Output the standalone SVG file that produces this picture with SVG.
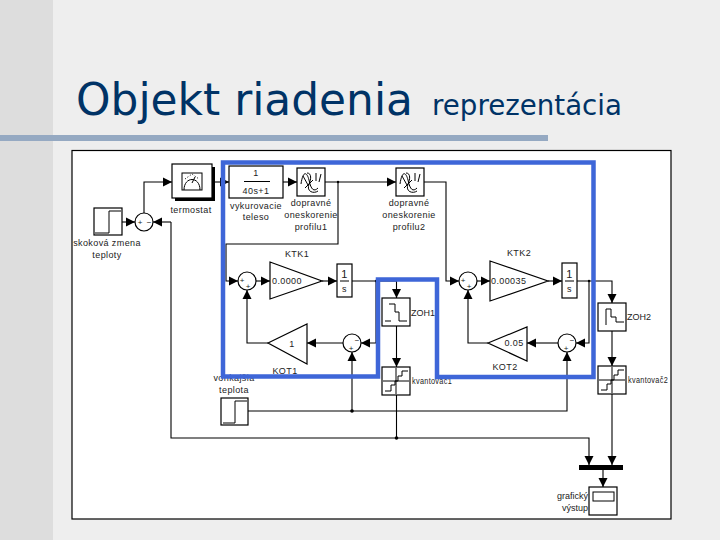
<svg xmlns="http://www.w3.org/2000/svg" width="720" height="540" viewBox="0 0 720 540">
<style>
.b{fill:#fff;stroke:#000;stroke-width:1.2}
.i{fill:none;stroke:#000;stroke-width:1}
.w{fill:none;stroke:#000;stroke-width:1.1}
.a{marker-end:url(#ah)}
text{font-family:"Liberation Sans",Arial,sans-serif;font-size:9px;fill:#222;letter-spacing:.4px}
.m{text-anchor:middle}
.s{font-size:8px;letter-spacing:0}
.t{font-family:"DejaVu Sans",sans-serif;fill:#003366;letter-spacing:0}
</style>
<defs>
<marker id="ah" markerUnits="userSpaceOnUse" markerWidth="10" markerHeight="10" refX="9" refY="5" orient="auto"><path d="M0,0.5 L9,5 L0,9.500 Z" fill="#000"/></marker>
<g id="kv"><rect class="b" width="28" height="28"/><path class="i" d="M14,1V27M1,14H27M3,24H9V18H13V14H16V9H20V4H26"/></g>
<g id="dl"><rect class="b" width="28" height="28"/><path class="i" d="M4,16C6,2 10,4 12,12C14,22 17,24 21,20M10,5C15,5 14,12 12,16C9,24 17,26 21,23M19,5V13M24,6L22,14M6,8L11,17M8,20L16,12"/></g>
</defs>
<rect width="720" height="540" fill="#eee"/>
<rect width="53" height="540" fill="#ddd"/>
<rect y="135" width="548" height="6" fill="#95a9c2"/>
<text class="t" x="76" y="115" style="font-size:44px" textLength="337" lengthAdjust="spacingAndGlyphs">Objekt riadenia</text>
<text class="t" x="432" y="115" style="font-size:28px" textLength="190" lengthAdjust="spacingAndGlyphs">reprezentácia</text>
<rect x="72" y="150.500" width="599" height="368.500" fill="#fff" stroke="#000" stroke-width="1.200"/>

<g id="connectors">
<path class="w a" d="M122,222H135"/>
<path class="w a" d="M144,213V182H172"/>
<path class="w a" d="M215,182H229"/>
<path class="w a" d="M283,182H297"/>
<path class="w a" d="M325,182H396"/>
<path class="w a" d="M338,182V244H226V281H238"/>
<path class="w a" d="M256,281H270"/>
<path class="w a" d="M322,281H337"/>
<path class="w" d="M352,281H396.500"/>
<path class="w a" d="M396.500,281V298"/>
<path class="w a" d="M376,281V343H361"/>
<path class="w a" d="M343,343H307"/>
<path class="w a" d="M268,343H247V290"/>
<path class="w a" d="M396.500,326V367"/>
<path class="w" d="M396.500,394V438"/>
<path class="w a" d="M248,411H352V352"/>
<path class="w a" d="M352,411H567V352"/>
<path class="w a" d="M423,182H446V281H459"/>
<path class="w a" d="M477,281H490"/>
<path class="w a" d="M548,281H562"/>
<path class="w a" d="M577,281H612V303"/>
<path class="w a" d="M589,281V343H576"/>
<path class="w a" d="M558,343H527"/>
<path class="w a" d="M488,343H468V290"/>
<path class="w a" d="M612,331V366"/>
<path class="w a" d="M612,394V465"/>
<path class="w a" d="M171,222H153"/>
<path class="w a" d="M171,222V438H589V465"/>
<path class="w a" d="M603,470V487"/>
<circle cx="352" cy="411" r="1.800"/>
<circle cx="396.500" cy="438" r="1.800"/>
<circle cx="376" cy="281" r="1.200"/>
<circle cx="589" cy="281" r="1.200"/>
<circle cx="338" cy="182" r="1.200"/>
</g>

<g id="step1"><rect class="b" x="94" y="208" width="28" height="27"/><path class="i" d="M95,233H109V211H121"/>
<text class="m" x="107" y="246">skoková zmena</text><text class="m" x="107" y="258">teploty</text></g>
<g id="sum0"><circle class="b" cx="144" cy="222" r="9"/><text class="m s" x="140" y="225">+</text><text class="m s" x="149" y="225">−</text></g>
<g id="termostat"><rect x="175" y="167" width="40" height="34" fill="#000"/><rect class="b" x="172" y="164" width="40" height="34"/>
<rect class="i" x="182" y="173" width="20" height="17"/><path class="i" d="M184,190C184,176 200,176 200,190"/><path class="i" stroke-dasharray="1 2" d="M185,179L192,174L199,179"/><path class="i" d="M192,183L195,177"/>
<text class="m" x="191" y="213">termostat</text></g>
<g id="vykurovacie"><rect class="b" x="229" y="166" width="54" height="32"/><text class="m" x="256" y="176">1</text><path class="i" d="M244,181.500H270"/><text class="m" x="256" y="194">40s+1</text>
<text class="m" x="256" y="209">vykurovacie</text><text class="m" x="256" y="220">teleso</text></g>
<g id="delay1"><use href="#dl" x="297" y="168"/><text class="m" x="311" y="206">dopravné</text><text class="m" x="311" y="218">oneskorenie</text><text class="m" x="311" y="230">profilu1</text></g>
<g id="delay2"><use href="#dl" x="396" y="168"/><text class="m" x="409" y="206">dopravné</text><text class="m" x="409" y="218">oneskorenie</text><text class="m" x="409" y="230">profilu2</text></g>
<g id="sum1"><circle class="b" cx="247" cy="281" r="9"/><text class="m s" x="242" y="283">+</text><text class="m s" x="248" y="289">+</text></g>
<g id="ktk1"><path class="b" d="M270,262L322,281L270,299Z"/><text x="272" y="284">0.0000</text><text class="m" x="297" y="257">KTK1</text></g>
<g id="int1"><rect class="b" x="337" y="264" width="15" height="33"/><text class="m" x="344.500" y="278" style="font-size:11px">1</text><path class="i" d="M340,281H349"/><text class="m" x="344.500" y="292">s</text></g>
<g id="kot1"><path class="b" d="M268,343L307,324V364Z"/><text class="m" x="292" y="347">1</text><text class="m" x="285" y="374">KOT1</text></g>
<g id="sum3"><circle class="b" cx="352" cy="343" r="9"/><text class="m s" x="357" y="343">−</text><text class="m s" x="351" y="351">+</text></g>
<g id="zoh1"><rect class="b" x="382" y="298" width="28" height="28"/><path class="i" d="M389,304H395V312H399V321H407M385,321H391"/><text x="411" y="316" style="letter-spacing:0">ZOH1</text></g>
<g id="kv1"><use href="#kv" x="382" y="367"/><text x="412" y="384" textLength="40" lengthAdjust="spacingAndGlyphs">kvantovač1</text></g>
<g id="vonkajsia"><rect class="b" x="221" y="398" width="27" height="27"/><path class="i" d="M223,423H235V401H247"/><text class="m" x="234" y="381">vonkajšia</text><text class="m" x="234" y="393">teplota</text></g>
<g id="sum2"><circle class="b" cx="468" cy="281" r="9"/><text class="m s" x="463" y="283">+</text><text class="m s" x="469" y="289">+</text></g>
<g id="ktk2"><path class="b" d="M490,261L548,281L490,301Z"/><text x="491" y="284">0.00035</text><text class="m" x="519" y="256">KTK2</text></g>
<g id="int2"><rect class="b" x="562" y="263" width="15" height="35"/><text class="m" x="569.500" y="278" style="font-size:11px">1</text><path class="i" d="M565,281H574"/><text class="m" x="569.500" y="292">s</text></g>
<g id="kot2"><path class="b" d="M488,343L527,327V361Z"/><text class="m" x="514" y="346">0.05</text><text class="m" x="505" y="370">KOT2</text></g>
<g id="sum4"><circle class="b" cx="567" cy="343" r="9"/><text class="m s" x="572" y="343">−</text><text class="m s" x="566" y="351">+</text></g>
<g id="zoh2"><rect class="b" x="598" y="303" width="28" height="28"/><path class="i" d="M606,325V309H611V317H616V322H624"/><text x="627" y="320" style="letter-spacing:0">ZOH2</text></g>
<g id="kv2"><use href="#kv" x="598" y="366"/><text x="628" y="383" textLength="40" lengthAdjust="spacingAndGlyphs">kvantovač2</text></g>
<g id="mux"><rect x="579" y="465" width="44" height="5"/></g>
<g id="scope"><rect class="b" x="589" y="487" width="28" height="28"/><rect class="i" x="593" y="492" width="21" height="9"/><text x="588" y="499" text-anchor="end" style="letter-spacing:0">grafický</text><text x="588" y="511" text-anchor="end" style="letter-spacing:0">výstup</text></g>
<path id="selection" d="M223,162.500H593.500V377H437V279.500H378V376.500H223Z" fill="none" stroke="#3e66d8" stroke-width="4.500"/>
</svg>
